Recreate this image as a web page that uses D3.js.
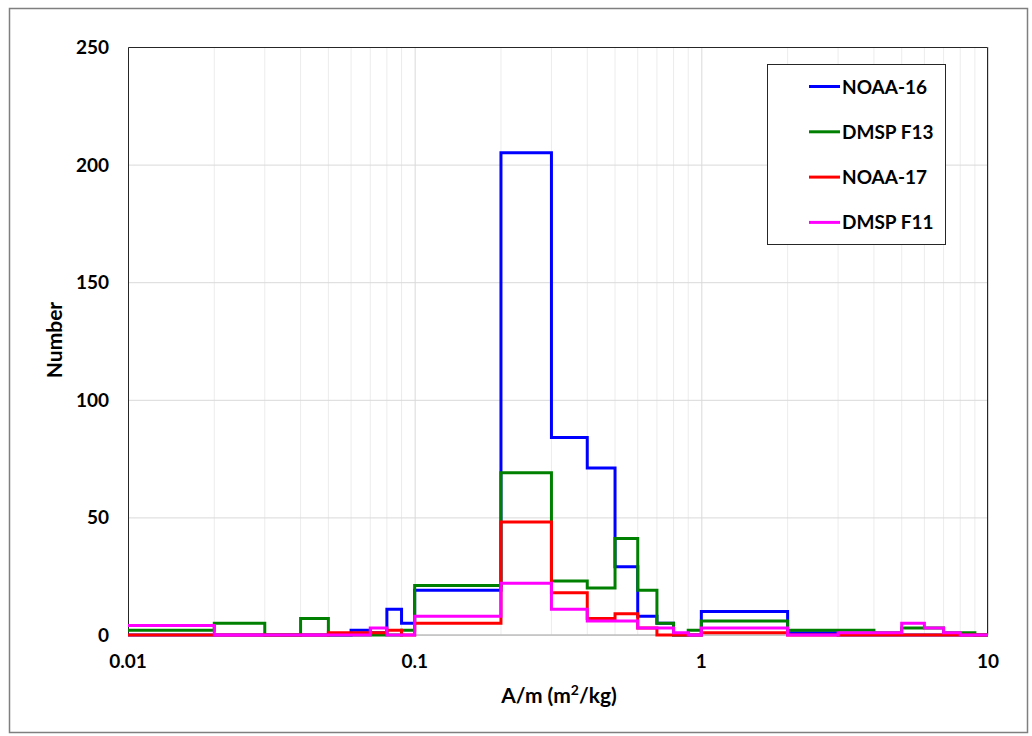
<!DOCTYPE html>
<html>
<head>
<meta charset="utf-8">
<script src="https://cdn.jsdelivr.net/npm/d3@7"></script>
<style>
  body { margin: 0; background: #fff; }
  text { font-family: Lato, "Open Sans", sans-serif; font-weight: bold; fill: #000; }
  .grid line { stroke: #d9d9d9; }
  .grid path { display: none; }
</style>
</head>
<body>
<div id="chart"></div>
<script>
// bin edges (A/m, m2/kg) - each bin goes from edge[i] to edge[i+1]
var binEdges = [0.01, 0.02, 0.03, 0.04, 0.05, 0.06, 0.07, 0.08, 0.09,
                0.1, 0.2, 0.3, 0.4, 0.5, 0.6, 0.7, 0.8, 0.9,
                1, 2, 3, 4, 5, 6, 7, 8, 9, 10];

// counts per bin
var noaa16  = [0, 0, 0, 0, 0, 2, 1, 11, 5,  19, 205, 84, 71, 29, 8, 5, 0, 0,  10, 1, 0, 0, 0, 0, 0, 0, 0];
var dmspF13 = [2, 5, 0, 7, 0, 0, 0, 0, 2,   21, 69, 23, 20, 41, 19, 5, 0, 2,  6, 2, 2, 1, 3, 3, 1, 1, 0];
var noaa17  = [0, 0, 0, 0, 1, 1, 1, 2, 0,   5, 48, 18, 7, 9, 3, 0, 0, 0,      1, 0, 0, 0, 0, 0, 0, 0, 0];
var dmspF11 = [4, 0, 0, 0, 0, 0, 3, 0, 0,   8, 22, 11, 6, 6, 3, 3, 1, 0,      3, 0, 1, 1, 5, 3, 1, 0, 0];

var seriesNames  = ["NOAA-16", "DMSP F13", "NOAA-17", "DMSP F11"];
var seriesColors = ["#0000ff", "#008000", "#ff0000", "#ff00ff"];
var seriesValues = [noaa16, dmspF13, noaa17, dmspF11];

var xTicks = [0.01, 0.1, 1, 10];
var yTicks = [0, 50, 100, 150, 200, 250];

// set the dimensions and margins of the graph
var W = 1032, H = 736;
var margin = {top: 47, right: 44, bottom: 101, left: 128},
    width = W - margin.left - margin.right,
    height = H - margin.top - margin.bottom;

var x = d3.scaleLog().domain([0.01, 10]).range([0, width]);
var y = d3.scaleLinear().domain([0, 250]).range([height, 0]);

var svg = d3.select("#chart").append("svg")
    .attr("width", W)
    .attr("height", H);

// outer frame
svg.append("rect")
    .attr("x", 9.5).attr("y", 8.5)
    .attr("width", 1018).attr("height", 724)
    .attr("fill", "none")
    .attr("stroke", "#7f7f7f")
    .attr("stroke-width", 1.5);

var g = svg.append("g")
    .attr("transform", "translate(" + margin.left + "," + margin.top + ")");

// minor vertical gridlines at every bin edge
g.append("g")
    .selectAll("line")
    .data(binEdges.filter(function(d) { return xTicks.indexOf(d) < 0; }))
  .enter().append("line")
    .attr("x1", function(d) { return x(d); })
    .attr("x2", function(d) { return x(d); })
    .attr("y1", 0).attr("y2", height)
    .attr("stroke", "#ececec");

// major vertical gridlines
g.append("g")
    .attr("class", "grid")
    .attr("transform", "translate(0," + height + ")")
    .call(d3.axisBottom(x).tickValues(xTicks).tickSize(-height).tickFormat(""));

// horizontal gridlines
g.append("g")
    .attr("class", "grid")
    .call(d3.axisLeft(y).tickValues(yTicks).tickSize(-width).tickFormat(""));

// plot frame: left/top/right dark, bottom grey
g.append("path")
    .attr("d", "M0.5," + height + "V0.5H" + (width - 0.5) + "V" + height)
    .attr("fill", "none")
    .attr("stroke", "#262626");
g.append("line")
    .attr("x1", 0).attr("x2", width)
    .attr("y1", height).attr("y2", height)
    .attr("stroke", "#bfbfbf")
    .attr("stroke-width", 1.5);

// step histograms
var line = d3.line()
    .x(function(d) { return x(d.edge); })
    .y(function(d) { return y(d.v); })
    .curve(d3.curveStepAfter);

seriesValues.forEach(function(vals, i) {
  var pts = binEdges.map(function(e, k) {
    return {edge: e, v: k < vals.length ? vals[k] : vals[vals.length - 1]};
  });
  g.append("path")
    .datum(pts)
    .attr("fill", "none")
    .attr("stroke", seriesColors[i])
    .attr("stroke-width", 3)
    .attr("stroke-linejoin", "miter")
    .attr("d", line);
});

// y tick labels
g.selectAll(".ylab")
    .data(yTicks)
  .enter().append("text")
    .attr("class", "ylab")
    .attr("text-anchor", "end")
    .attr("x", -19)
    .attr("y", function(d) { return y(d) + 7; })
    .style("font-size", "19px")
    .text(function(d) { return d; });

// x tick labels
g.selectAll(".xlab")
    .data(xTicks)
  .enter().append("text")
    .attr("class", "xlab")
    .attr("text-anchor", "middle")
    .attr("x", function(d) { return x(d); })
    .attr("y", height + 33)
    .style("font-size", "19px")
    .text(function(d) { return d; });

// X axis label
var xt = g.append("text")
    .attr("text-anchor", "middle")
    .attr("x", width / 2 + 1)
    .attr("y", height + 68)
    .style("font-size", "21px");
xt.append("tspan").text("A/m (m");
xt.append("tspan").attr("dy", -8).style("font-size", "14px").text("2");
xt.append("tspan").attr("dy", 8).text("/kg)");

// Y axis label
g.append("text")
    .attr("text-anchor", "middle")
    .attr("transform", "rotate(-90)")
    .attr("x", -height / 2 + 1)
    .attr("y", -66)
    .style("font-size", "21px")
    .text("Number");

// legend
var lg = svg.append("g").attr("transform", "translate(767,64)");
lg.append("rect")
    .attr("x", 0.5).attr("y", 0.5)
    .attr("width", 178).attr("height", 180)
    .attr("fill", "#fff")
    .attr("stroke", "#262626");

var rows = lg.selectAll(".row")
    .data(seriesNames)
  .enter().append("g")
    .attr("transform", function(d, i) { return "translate(0," + (22.5 + i * 45.3) + ")"; });
rows.append("line")
    .attr("x1", 42).attr("x2", 73)
    .attr("y1", 0).attr("y2", 0)
    .attr("stroke", function(d, i) { return seriesColors[i]; })
    .attr("stroke-width", 3);
rows.append("text")
    .attr("x", 75)
    .attr("y", 7)
    .style("font-size", "19px")
    .text(function(d) { return d; });
</script>
</body>
</html>
